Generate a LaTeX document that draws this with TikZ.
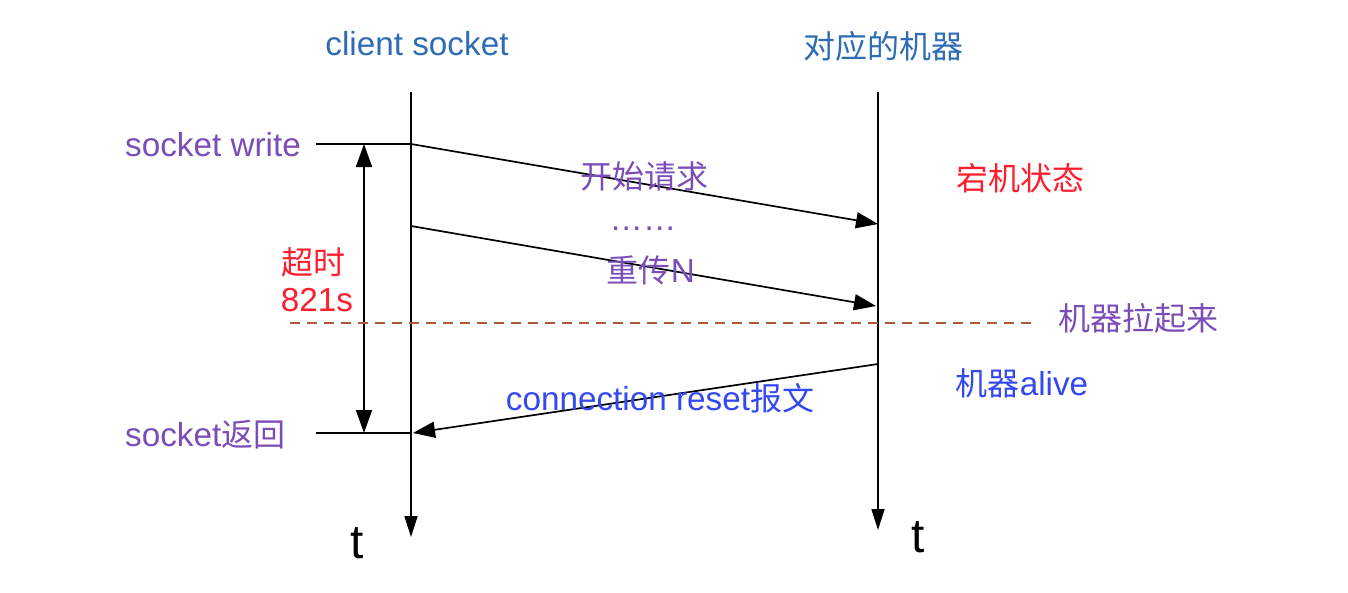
\documentclass[tikz,border=0pt]{standalone}
\usepackage{fontspec}
\setmainfont{Liberation Sans}[Scale=1.04]
\newfontfamily\cjk{Noto Sans CJK SC}
\usetikzlibrary{arrows.meta}
\definecolor{hdrblue}{HTML}{2E6DB4}
\definecolor{lblpurple}{HTML}{7B4DB8}
\definecolor{lblred}{HTML}{FF1E2D}
\definecolor{lblblue}{HTML}{3448F0}
\definecolor{dashbrown}{HTML}{A85A3A}
\begin{document}
\begin{tikzpicture}[x=1pt,y=-1pt,
  lbl/.style={inner sep=0pt,font=\fontsize{32}{36}\selectfont},
  life/.style={line width=1.7pt,-{Triangle[length=21pt,width=13pt]}},
  msg/.style={line width=1.7pt,-{Triangle[length=22pt,width=16pt]}},
  tick/.style={line width=1.7pt},
  tlbl/.style={inner sep=0pt,font=\fontsize{46}{50}\selectfont}]
\useasboundingbox[fill=white] (0,0) rectangle (1348,592);
% headers
\node[lbl,text=hdrblue] (hA) at (417,44) {client socket};
\node[lbl,text=hdrblue] (hB) at (883,46) {\cjk 对应的机器};
% lifelines
\coordinate (a0) at (411,92);
\coordinate (a1) at (411,537);
\coordinate (b0) at (878,92);
\coordinate (b1) at (878,530);
\draw[life] (a0) -- (a1);
\draw[life] (b0) -- (b1);
% left labels and ticks
\node[lbl,text=lblpurple,anchor=west] (sw) at (125,145) {socket write};
\node[lbl,text=lblpurple,anchor=west] (sr) at (125,435) {socket{\cjk 返回}};
\coordinate (sw1) at (316,144);
\coordinate (sw2) at (411,144);
\coordinate (sr1) at (316,433);
\coordinate (sr2) at (411,433);
\draw[tick] (sw1) -- (sw2);
\draw[tick] (sr1) -- (sr2);
\coordinate (d0) at (364,144);
\coordinate (d1) at (364,433);
\draw[line width=1.7pt,{Triangle[length=23pt,width=16pt]}-{Triangle[length=23pt,width=16pt]}] (d0) -- (d1);
\node[lbl,text=lblred] (to1) at (313,262) {\cjk 超时};
\node[lbl,text=lblred] (to2) at (317,300) {821s};
% dashed line
\coordinate (dl0) at (290,323);
\coordinate (dl1) at (1032,323);
\draw[dashbrown,line width=1.3pt,dash pattern=on 10pt off 7pt] (dl0) -- (dl1);
\node[lbl,text=lblpurple] (up) at (1138,318) {\cjk 机器拉起来};
\node[lbl,text=lblred] (down) at (1020,178) {\cjk 宕机状态};
\node[lbl,text=lblblue] (alive) at (1022,383) {{\cjk 机器}alive};
% messages
\coordinate (m1a) at (411,144);
\coordinate (m1b) at (878,224);
\coordinate (m2a) at (411,226);
\coordinate (m2b) at (876,306);
\coordinate (m3a) at (878,364);
\coordinate (m3b) at (413,433);
\draw[msg] (m1a) -- (m1b);
\draw[msg] (m2a) -- (m2b);
\draw[msg] (m3a) -- (m3b);
\node[lbl,text=lblpurple] (l1) at (644,176) {\cjk 开始请求};
\node[lbl,text=lblpurple] (l2) at (643,229) {……};
\node[lbl,text=lblpurple] (l3) at (651,270) {{\cjk 重传}N};
\node[lbl,text=lblblue] (l4) at (660,398) {connection reset{\cjk 报文}};
% time labels
\node[tlbl] (tA) at (357,543) {t};
\node[tlbl] (tB) at (918,537) {t};
\end{tikzpicture}
\end{document}
